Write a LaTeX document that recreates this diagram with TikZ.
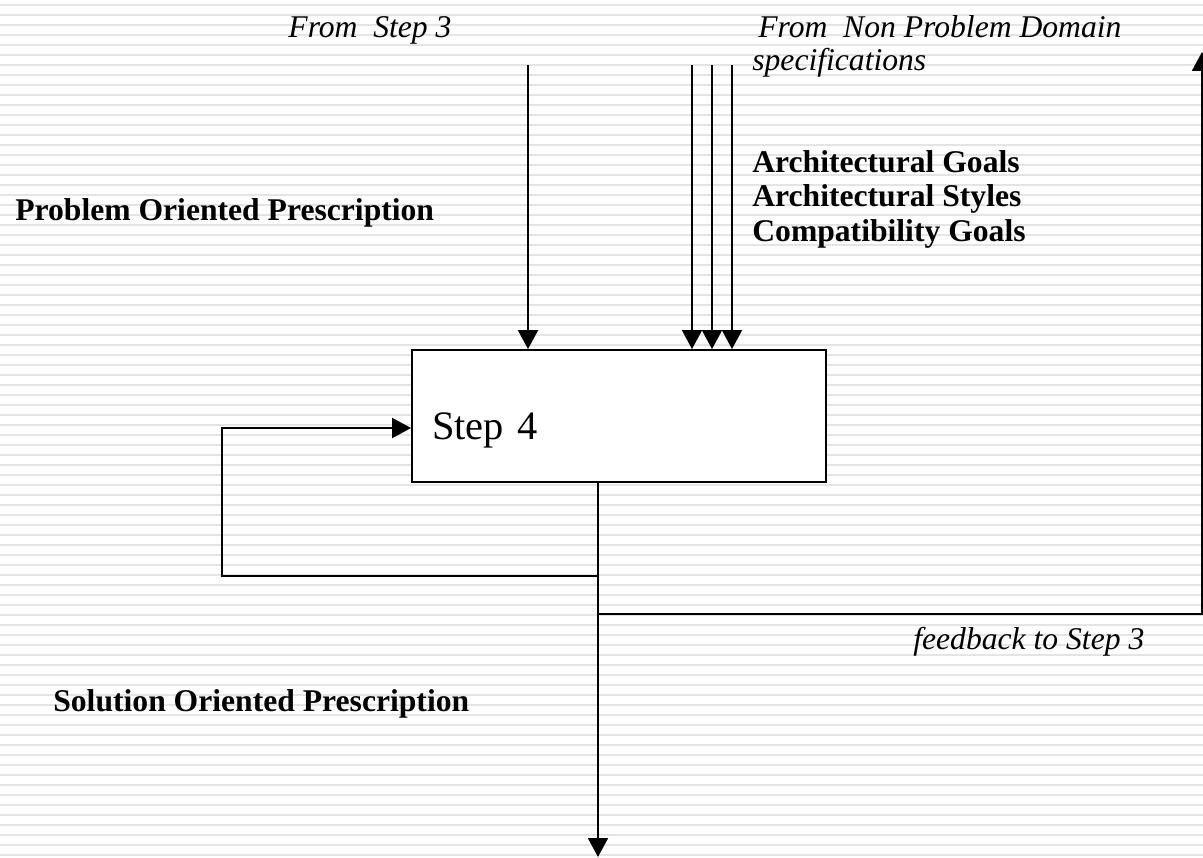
\documentclass[tikz,border=0pt]{standalone}
\usepackage{fontspec}
\setmainfont{Liberation Serif}
\usetikzlibrary{arrows.meta,positioning}
\definecolor{stripe}{RGB}{228,228,228}
\tikzset{
  stepbox/.style={draw=black,line width=1.1pt,fill=white,minimum height=2.64cm,text width=7.48cm,inner xsep=0.4cm,align=left,
    text height=0.96cm,text depth=0cm,font=\fontsize{23}{26}\selectfont},
  flow/.style={-{Triangle[length=0.38cm,width=0.4cm]},line width=1.1pt},
  ilab/.style={font=\fontsize{18}{21}\selectfont\itshape,inner sep=0pt,anchor=base west},
  blab/.style={font=\fontsize{18}{21}\selectfont\bfseries,inner sep=0pt,anchor=base west}
}

\begin{document}
\begin{tikzpicture}[x=0.02cm,y=-0.02cm]
  \useasboundingbox (0,0) rectangle (1203,858);
  % striped page
  \foreach \y in {4,14,...,854} \fill[stripe] (0,\y) rectangle (1203,\y+2.2);

  % the step and its labels
  \node[stepbox] (step4) at (619,416) {Step 4};
  \node[ilab,anchor=base] (from3) at (370,38) {From\ \ Step 3};
  \node[ilab] (fromnp) at (758,38) {From\ \ Non Problem Domain};
  \node[ilab] (spec) at (752,71) {specifications};
  \node[blab] (goal1) at (752,173) {Architectural Goals};
  \node[blab] (goal2) at (752,207) {Architectural Styles};
  \node[blab] (goal3) at (752,241) {Compatibility Goals};
  \node[blab] (pop) at (15,220) {Problem Oriented Prescription};
  \node[blab] (sop) at (53,711) {Solution Oriented Prescription};
  \node[ilab] (fb3) at (913,649) {feedback to Step 3};

  % free ends of the connectors
  \coordinate (s3) at (528,65);
  \coordinate (np1) at (692,65);
  \coordinate (np2) at (712,65);
  \coordinate (np3) at (732,65);
  \coordinate (split) at (598,576);
  \coordinate (loopc) at (222,576);
  \coordinate (back) at (222,428);
  \coordinate (fb) at (598,614);
  \coordinate (fbc) at (1202,614);
  \coordinate (top) at (1202,52);
  \coordinate (sink) at (598,857);

  % inputs
  \draw[flow] (s3) -- (s3 |- step4.north);
  \foreach \c in {np1,np2,np3} \draw[flow] (\c) -- (\c |- step4.north);
  % output and loops
  \draw[flow] (split |- step4.south) -- (sink);
  \draw[flow] (split) -- (loopc) -- (back) -- (back -| step4.west);
  \draw[flow] (fb) -- (fbc) -- (top);
\end{tikzpicture}
\end{document}
